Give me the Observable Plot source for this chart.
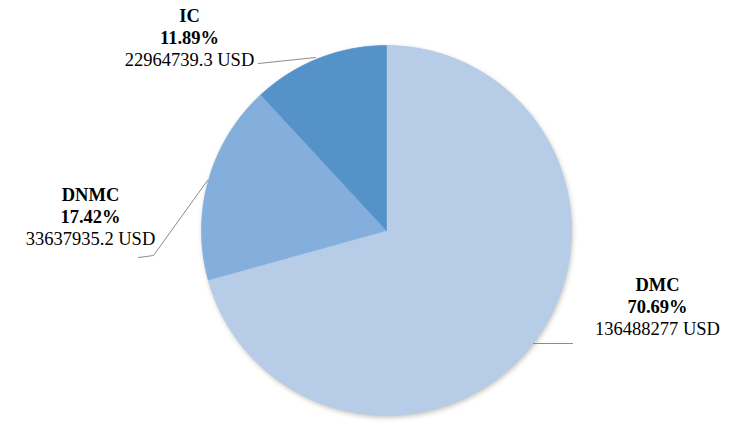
<!DOCTYPE html>
<html>
<head>
<meta charset="utf-8">
<script src="https://cdn.jsdelivr.net/npm/d3@7"></script>
<script src="https://cdn.jsdelivr.net/npm/@observablehq/plot@0.6"></script>
<style>
  html, body { margin: 0; padding: 0; background: #fff; }
  #chart svg { display: block; }
  #chart g.pie-base path { filter: drop-shadow(1px 2px 2.5px rgba(90,80,60,0.35)); }
</style>
</head>
<body>
<div id="chart"></div>
<script>
// ---- data ----
const categories = ["DMC", "DNMC", "IC"];
const valuesUSD = [136488277, 33637935.2, 22964739.3];
const valueLabels = ["136488277 USD", "33637935.2 USD", "22964739.3 USD"];

// ---- style / layout (kept separate from data) ----
const colors = ["#b7cce7", "#84aedc", "#5592c9"];
const W = 744, H = 436;
const cx = 386, cy = 230, R = 185;   // pixel center/radius of pie
// label anchor (pixel) for each category: [centerX, firstLineY]
const labelAnchor = {DMC: [657, 285], DNMC: [90, 195], IC: [189, 16]};
// leader line pixel paths
const leaderPx = {
  DMC: [[533, 343], [572, 343]],
  DNMC: [[207, 180], [153, 255], [138, 257]],
  IC: [[315, 57], [258, 63]]
};
const lineGap = 22;

// pixel -> data units (radius = 1)
const ux = px => (px - cx) / R;
const uy = py => (cy - py) / R;

const total = d3.sum(valuesUSD);
function arcPts(a0, a1) {
  const n = Math.max(4, Math.ceil((a1 - a0) / (Math.PI / 180)));
  const pts = [{x: 0, y: 0}];
  for (let k = 0; k <= n; k++) {
    const a = a0 + (a1 - a0) * k / n;
    pts.push({x: Math.sin(a), y: Math.cos(a)});
  }
  pts.push({x: 0, y: 0});
  return pts;
}
let acc = 0;
const slices = categories.map((c, i) => {
  const a0 = acc / total * 2 * Math.PI;
  acc += valuesUSD[i];
  const a1 = acc / total * 2 * Math.PI;
  return {name: c, color: colors[i], pts: arcPts(a0, a1), pct: valuesUSD[i] / total};
});

const boldLines = [];
const normalLines = [];
categories.forEach((c, i) => {
  const [lx, ly] = labelAnchor[c];
  boldLines.push({x: ux(lx), y: uy(ly), t: c});
  boldLines.push({x: ux(lx), y: uy(ly + lineGap), t: (slices[i].pct * 100).toFixed(2) + "%"});
  normalLines.push({x: ux(lx), y: uy(ly + 2 * lineGap), t: valueLabels[i]});
});

const marks = [];
// base full disc for the soft shadow
marks.push(Plot.line(arcPts(0, 2 * Math.PI).slice(1, -1), {x: "x", y: "y", fill: colors[0], stroke: "none", className: "pie-base"}));
slices.forEach(s => {
  marks.push(Plot.line(s.pts, {x: "x", y: "y", fill: s.color, stroke: s.color, strokeWidth: 0.6}));
});
categories.forEach(c => {
  marks.push(Plot.line(leaderPx[c].map(([px, py]) => ({x: ux(px), y: uy(py)})),
    {x: "x", y: "y", stroke: "#8c8c8c", strokeWidth: 1}));
});
const font = "Liberation Serif, Times New Roman, serif";
marks.push(Plot.text(boldLines, {x: "x", y: "y", text: "t", fontWeight: "bold", fill: "#000",
  fontSize: 18.5, fontFamily: font, textAnchor: "middle"}));
marks.push(Plot.text(normalLines, {x: "x", y: "y", text: "t", fill: "#000",
  fontSize: 18.5, fontFamily: font, textAnchor: "middle"}));

const chart = Plot.plot({
  width: W, height: H,
  margin: 0,
  x: {domain: [ux(0), ux(W)], axis: null},
  y: {domain: [uy(H), uy(0)], axis: null},
  marks
});
document.getElementById("chart").appendChild(chart);
</script>
</body>
</html>
